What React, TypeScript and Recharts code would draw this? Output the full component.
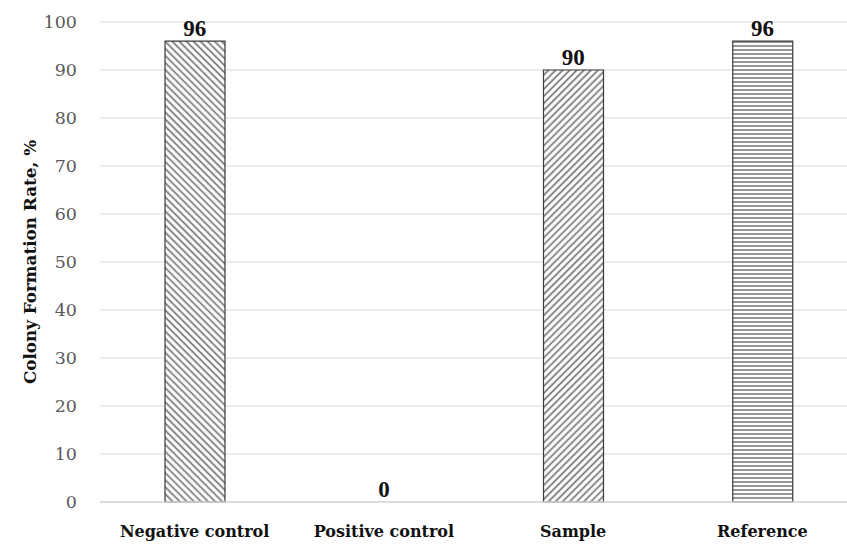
import { Bar, ComposedChart, CartesianGrid, Cell, Line, LabelList, XAxis, YAxis, Label } from "recharts";

const categories = ["Negative control", "Positive control", "Sample", "Reference"];
const rates = [96, 0, 90, 96];
const yTicks = [0, 10, 20, 30, 40, 50, 60, 70, 80, 90, 100];
const fills = ["url(#hatchBack)", "url(#hatchBack)", "url(#hatchFwd)", "url(#hatchHoriz)"];

const data = categories.map((name, i) => ({ name, rate: rates[i] }));

const SERIF = '"DejaVu Serif", serif';
const NUM_FONT = '"Liberation Serif", serif';

export default function App() {
  return (
    <div style={{ position: "absolute", left: 0, top: 0, width: 847, height: 545, overflow: "hidden" }}>
      <svg width={0} height={0} style={{ position: "absolute" }}>
        <defs>
          <pattern id="hatchBack" width={5} height={5} patternUnits="userSpaceOnUse" patternTransform="rotate(-45)">
            <rect width={5} height={5} fill="#fff" />
            <line x1={2.5} y1={0} x2={2.5} y2={5} stroke="#6b6b6b" strokeWidth={1.6} />
          </pattern>
          <pattern id="hatchFwd" width={5} height={5} patternUnits="userSpaceOnUse" patternTransform="rotate(45)">
            <rect width={5} height={5} fill="#fff" />
            <line x1={2.5} y1={0} x2={2.5} y2={5} stroke="#6b6b6b" strokeWidth={1.6} />
          </pattern>
          <pattern id="hatchHoriz" width={4} height={4} patternUnits="userSpaceOnUse">
            <rect width={4} height={4} fill="#fff" />
            <line x1={0} y1={2} x2={4} y2={2} stroke="#6b6b6b" strokeWidth={1.4} />
          </pattern>
        </defs>
      </svg>
      <ComposedChart
        width={857}
        height={545}
        data={data}
        margin={{ top: 22, right: 0, bottom: 0, left: 0 }}
        barSize={60}
      >
        <CartesianGrid stroke="#d9d9d9" vertical={false} />
        <XAxis
          dataKey="name"
          height={43}
          axisLine={{ stroke: "#d9d9d9", strokeWidth: 1.5 }}
          tickLine={false}
          tick={{ fill: "#111", fontSize: 16, fontWeight: 700, fontFamily: SERIF }}
          tickMargin={18}
          interval={0}
        />
        <YAxis
          width={100}
          domain={[0, 100]}
          ticks={yTicks}
          axisLine={false}
          tickLine={false}
          tickMargin={17}
          tick={{ fill: "#595959", fontSize: 17.5, fontFamily: SERIF }}
        >
          <Label
            value="Colony Formation Rate, %"
            angle={-90}
            position="insideLeft"
            offset={30}
            style={{ textAnchor: "middle", fill: "#111", fontSize: 16.8, fontWeight: 700, fontFamily: SERIF }}
          />
        </YAxis>
        <Bar dataKey="rate" isAnimationActive={false} stroke="#3a3a3a" strokeWidth={1.2}>
          {data.map((_, i) => (
            <Cell key={i} fill={fills[i]} />
          ))}
        </Bar>
        {/* invisible line only to carry the value labels (bar labels skip the zero bar) */}
        <Line dataKey="rate" stroke="none" dot={false} activeDot={false} isAnimationActive={false} legendType="none">
          <LabelList
            dataKey="rate"
            position="top"
            offset={5}
            style={{ fill: "#111", fontSize: 23, fontWeight: 700, fontFamily: NUM_FONT }}
          />
        </Line>
      </ComposedChart>
    </div>
  );
}
